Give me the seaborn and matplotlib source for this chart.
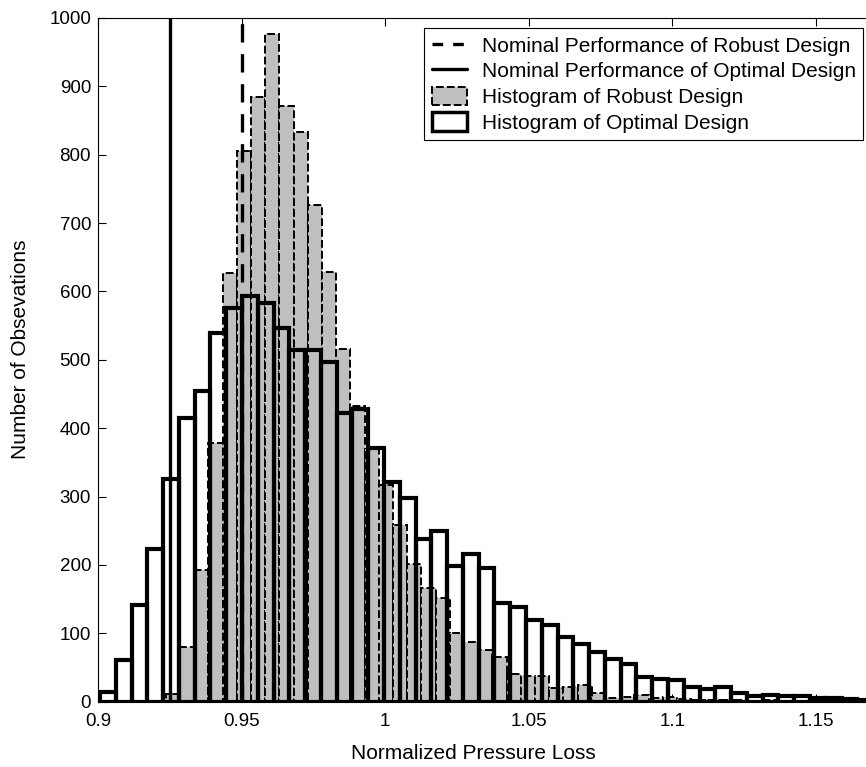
import numpy as np
import pandas as pd
import matplotlib
matplotlib.use("Agg")
import matplotlib.pyplot as plt
import seaborn as sns
from matplotlib.lines import Line2D
from matplotlib.patches import Patch

# ---- data -------------------------------------------------------------
# Histogram of the optimal design (counts per bin, equal-width bins)
optimal_first_edge = 0.9007
optimal_bin_width = 0.005494
optimal_counts = [14, 61, 142, 224, 326, 415, 454, 540, 576, 594,
                  583, 546, 514, 514, 497, 422, 428, 371, 321, 298,
                  238, 250, 199, 216, 196, 144, 138, 120, 112, 95,
                  84, 72, 63, 55, 36, 33, 32, 22, 18, 21,
                  13, 8, 10, 9, 9, 5, 6, 4, 3]

# Histogram of the robust design
robust_first_edge = 0.92364
robust_bin_width = 0.004944
robust_counts = [11, 80, 193, 379, 627, 805, 885, 976, 872, 833,
                 727, 628, 516, 432, 370, 317, 258, 202, 166, 151,
                 100, 88, 76, 66, 41, 37, 37, 20, 21, 24,
                 12, 5, 7, 10, 5, 7, 4, 3, 2, 3,
                 2, 1, 2, 1, 1, 1, 0, 1, 0, 1]

# Nominal performance of each design
optimal_nominal = 0.925
robust_nominal = 0.95

x_label = "Normalized Pressure Loss"
y_label = "Number of Obsevations"
legend_labels = ["Nominal Performance of Robust Design",
                 "Nominal Performance of Optimal Design",
                 "Histogram of Robust Design",
                 "Histogram of Optimal Design"]
x_ticks = [0.9, 0.95, 1.0, 1.05, 1.1, 1.15]
x_ticklabels = ["0.9", "0.95", "1", "1.05", "1.1", "1.15"]
y_ticks = [0, 100, 200, 300, 400, 500, 600, 700, 800, 900, 1000]
x_limits = (0.9, 1.16741)
y_limits = (0, 1000)


def bin_table(first_edge, width, counts):
    edges = first_edge + width * np.arange(len(counts) + 1)
    table = pd.DataFrame({"value": edges[:-1] + width / 2,
                          "count": np.asarray(counts, dtype=float)})
    return table, [float(e) for e in edges]


# ---- style ------------------------------------------------------------
sns.set_style("ticks")
plt.rcParams["font.family"] = ["Liberation Sans", "DejaVu Sans"]
plt.rcParams.update({
    "xtick.direction": "in",
    "ytick.direction": "in",
    "xtick.top": True,
    "ytick.right": False,
    "xtick.major.size": 5.5,
    "ytick.major.size": 5.5,
    "xtick.major.width": 0.8,
    "ytick.major.width": 0.8,
    "axes.linewidth": 0.8,
    "axes.edgecolor": "black",
    "xtick.color": "black",
    "ytick.color": "black",
    "text.color": "black",
    "axes.labelcolor": "black",
})

W, H = 866, 767
fig = plt.figure(figsize=(W / 100, H / 100), dpi=100)
ax = fig.add_axes([98 / W, 65.3 / H, 768 / W, 683.7 / H])

gray = "#bfbfbf"
robust_dash = (0, (4, 1.6))

# robust design: filled gray bars with dashed outlines
robust_df, robust_edges = bin_table(robust_first_edge, robust_bin_width, robust_counts)
sns.histplot(data=robust_df, x="value", weights="count", bins=robust_edges, ax=ax,
             color=gray, alpha=1, edgecolor="black",
             linestyle=robust_dash, linewidth=1.4, zorder=2)

# optimal design: open bars with heavy black outlines
optimal_df, optimal_edges = bin_table(optimal_first_edge, optimal_bin_width, optimal_counts)
sns.histplot(data=optimal_df, x="value", weights="count", bins=optimal_edges, ax=ax,
             fill=False, color="black", linewidth=3.0, zorder=3)

# nominal performance markers
ax.axvline(robust_nominal, color="black", linewidth=2.4,
           linestyle=(0, (5.5, 3.5)), zorder=4)
ax.axvline(optimal_nominal, color="black", linewidth=2.4, zorder=4)

ax.set_xlim(*x_limits)
ax.set_ylim(*y_limits)
ax.set_xticks(x_ticks)
ax.set_xticklabels(x_ticklabels)
ax.set_yticks(y_ticks)
ax.tick_params(axis="both", labelsize=13.5)
ax.tick_params(axis="x", pad=8)
ax.tick_params(axis="y", pad=5)
ax.spines["right"].set_visible(False)

ax.set_xlabel(x_label, fontsize=15)
ax.set_ylabel(y_label, fontsize=15)
ax.xaxis.set_label_coords(0.489, -0.062)
ax.yaxis.set_label_coords(-0.089, 0.515)

handles = [
    Line2D([], [], color="black", linewidth=2.4, linestyle=(0, (3.2, 3.0))),
    Line2D([], [], color="black", linewidth=2.4),
    Patch(facecolor=gray, edgecolor="black", linestyle=robust_dash, linewidth=1.4),
    Patch(facecolor="white", edgecolor="black", linewidth=2.5),
]
leg = ax.legend(handles, legend_labels, loc="upper right",
                bbox_to_anchor=(863 / W, (H - 28) / H),
                bbox_transform=fig.transFigure, borderaxespad=0,
                fontsize=15, frameon=True, fancybox=False, framealpha=1,
                edgecolor="black", handlelength=1.7, handleheight=1.0,
                handletextpad=0.7, borderpad=0.35, labelspacing=0.25)
leg.get_frame().set_linewidth(0.8)
leg.set_zorder(10)

fig.savefig("out.png", dpi=100)
